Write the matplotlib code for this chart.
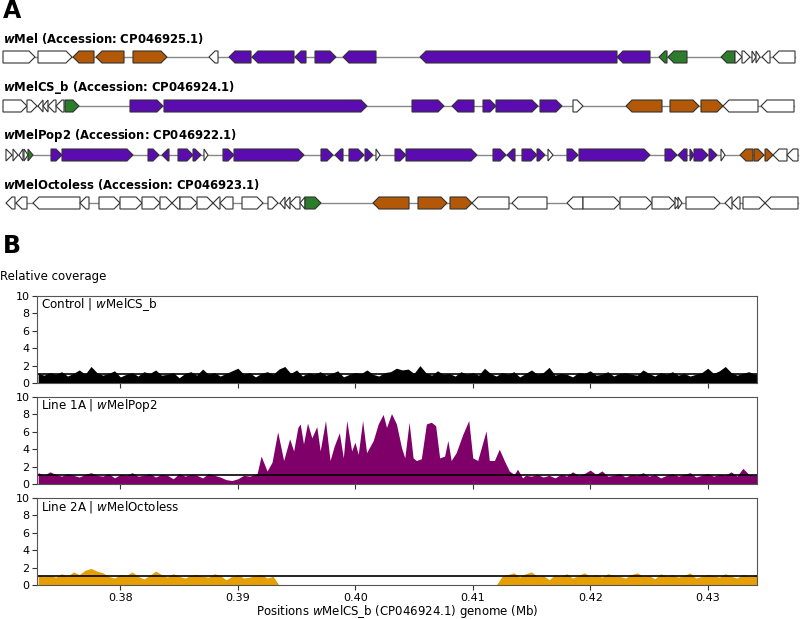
import numpy as np
import matplotlib
matplotlib.use("Agg")
import matplotlib.pyplot as plt
from matplotlib.patches import Polygon

# ---- panel A: gene tracks (start, end, strand, colour code) ----
track_titles = [r"$\mathbfit{w}$Mel (Accession: CP046925.1)",
                r"$\mathbfit{w}$MelCS_b (Accession: CP046924.1)",
                r"$\mathbfit{w}$MelPop2 (Accession: CP046922.1)",
                r"$\mathbfit{w}$MelOctoless (Accession: CP046923.1)"]

wmel_genes = [(3, 35, 1, 'w'), (38, 72, 1, 'w'), (73, 94, -1, 'o'), (96, 124, -1, 'o'),
              (133, 167, 1, 'o'), (209, 218, -1, 'w'), (229, 251, -1, 'p'), (252, 294, -1, 'p'),
              (295, 306, -1, 'p'), (315, 336, 1, 'p'), (343, 376, -1, 'p'), (420, 617, -1, 'p'),
              (617, 650, -1, 'p'), (659, 667, -1, 'g'), (668, 687, -1, 'g'), (721, 735, -1, 'g'),
              (735, 742, 1, 'w'), (742, 750, 1, 'w'), (752, 756, 1, 'w'), (756, 760, 1, 'w'),
              (762, 770, -1, 'w'), (773, 795, -1, 'w')]

wmelcs_genes = [(3, 27, 1, 'w'), (27, 37, 1, 'w'), (38, 43, -1, 'w'), (43, 48, -1, 'w'),
                (48, 56, -1, 'w'), (56, 64, -1, 'w'), (65, 79, 1, 'g'), (130, 163, 1, 'p'),
                (164, 367, 1, 'p'), (412, 444, 1, 'p'), (452, 474, -1, 'p'), (483, 496, 1, 'p'),
                (496, 538, 1, 'p'), (540, 562, 1, 'p'), (573, 583, 1, 'w'), (626, 662, -1, 'o'),
                (670, 699, 1, 'o'), (701, 723, 1, 'o'), (723, 758, -1, 'w'), (761, 794, -1, 'w')]

wmelpop_genes = [(6, 12, 1, 'w'), (13, 18, 1, 'w'), (19, 23, -1, 'w'), (24, 28, 1, 'w'),
                 (28, 33, 1, 'g'), (51, 62, 1, 'p'), (62, 133, 1, 'p'), (148, 159, 1, 'p'),
                 (162, 169, -1, 'p'), (178, 193, 1, 'p'), (193, 201, 1, 'p'), (204, 208, 1, 'w'),
                 (223, 234, 1, 'p'), (234, 304, 1, 'p'), (321, 333, 1, 'p'), (335, 343, -1, 'p'),
                 (349, 364, 1, 'p'), (365, 373, 1, 'p'), (376, 380, 1, 'w'), (395, 406, 1, 'p'),
                 (406, 477, 1, 'p'), (493, 506, 1, 'p'), (507, 515, -1, 'p'), (522, 537, 1, 'p'),
                 (537, 545, 1, 'p'), (548, 553, 1, 'w'), (567, 578, 1, 'p'), (579, 650, 1, 'p'),
                 (665, 677, 1, 'p'), (678, 687, -1, 'p'), (690, 694, 1, 'p'), (694, 708, 1, 'p'),
                 (709, 717, 1, 'p'), (721, 725, 1, 'w'), (740, 753, -1, 'o'), (754, 764, 1, 'o'),
                 (765, 773, 1, 'o'), (773, 787, -1, 'w'), (787, 798, -1, 'w')]

wmeloct_genes = [(6, 15, -1, 'w'), (16, 27, -1, 'w'), (33, 80, -1, 'w'), (80, 89, -1, 'w'),
                 (99, 120, 1, 'w'), (120, 142, 1, 'w'), (142, 160, 1, 'w'), (160, 172, 1, 'w'),
                 (172, 180, -1, 'w'), (180, 197, 1, 'w'), (197, 213, 1, 'w'), (213, 220, -1, 'w'),
                 (220, 233, -1, 'w'), (242, 263, 1, 'w'), (268, 278, 1, 'w'), (280, 285, -1, 'w'),
                 (285, 290, -1, 'w'), (290, 300, -1, 'w'), (300, 305, -1, 'w'), (305, 321, 1, 'g'),
                 (373, 409, -1, 'o'), (418, 447, 1, 'o'), (450, 472, 1, 'o'), (472, 509, -1, 'w'),
                 (512, 547, -1, 'w'), (567, 583, -1, 'w'), (583, 620, 1, 'w'), (620, 652, 1, 'w'),
                 (652, 675, 1, 'w'), (675, 680, 1, 'w'), (678, 682, 1, 'w'), (686, 720, 1, 'w'),
                 (725, 732, -1, 'w'), (732, 740, -1, 'w'), (743, 765, 1, 'w'), (765, 798, -1, 'w')]

tracks = [wmel_genes, wmelcs_genes, wmelpop_genes, wmeloct_genes]
gene_colors = {'w': 'white', 'o': '#b35806', 'p': '#5a0cb0', 'g': '#2b7d2b'}

# ---- panel B: relative coverage ----
grid_pos = np.linspace(0.373, 0.4345, 124)

control_cov = [1.1, 0.9, 1.2, 1.0, 1.3, 0.8, 1.1, 1.5, 1.0, 1.9,
               1.2, 0.9, 1.1, 1.4, 0.7, 1.0, 1.2, 0.8, 1.3, 1.1,
               1.5, 0.9, 1.0, 1.2, 0.6, 1.1, 1.3, 0.9, 1.6, 1.0,
               1.2, 0.8, 1.1, 1.4, 1.7, 1.0, 1.2, 0.7, 1.1, 1.3,
               1.0, 1.6, 1.9, 1.1, 1.5, 0.8, 1.2, 1.0, 1.3, 0.9,
               1.1, 1.4, 0.7, 1.0, 1.2, 1.1, 1.5, 1.0, 0.8, 1.2,
               1.3, 1.7, 1.5, 1.6, 1.1, 2.0, 1.2, 0.9, 1.4, 1.0,
               1.1, 0.8, 1.3, 1.0, 1.2, 0.9, 1.7, 1.1, 0.8, 1.2,
               1.0, 1.3, 0.7, 1.1, 1.5, 1.0, 1.2, 1.8, 0.9, 1.1,
               1.0, 0.7, 1.2, 1.1, 1.4, 0.9, 1.0, 1.3, 0.8, 1.1,
               1.2, 1.0, 0.9, 1.5, 1.1, 0.8, 1.2, 1.0, 1.3, 0.9,
               1.1, 0.8, 1.0, 1.2, 1.7, 1.1, 1.4, 1.9, 1.2, 0.9,
               1.1, 1.3, 1.0, 1.2]

octoless_cov = ([1.2, 1.0, 1.1, 0.9, 1.3, 1.0, 1.5, 1.2, 1.7, 1.9,
                 1.6, 1.4, 1.0, 0.8, 1.2, 1.1, 1.5, 1.0, 0.7, 1.1,
                 1.6, 1.2, 0.9, 1.3, 1.0, 0.8, 1.1, 1.2, 1.0, 0.9,
                 1.3, 1.1, 0.6, 1.0, 1.2, 0.8, 0.9, 1.1, 1.2, 0.8,
                 1.0]
                + [0.0] * 38
                + [1.0, 1.2, 1.4, 0.9, 1.3, 1.5, 1.0, 1.1, 0.6, 1.2, 1.0,
                   1.3, 0.8, 1.1, 1.4, 1.0, 1.2, 0.9, 1.3, 1.1, 1.0,
                   0.8, 1.2, 1.4, 1.0, 1.1, 0.7, 1.3, 1.0, 1.2, 0.9,
                   1.1, 1.4, 0.8, 1.0, 1.2, 1.1, 0.9, 1.3, 1.0, 0.8,
                   1.2, 1.0, 1.1, 1.3])

pop2_left_cov = [1.3, 1.0, 1.4, 1.1, 0.9, 1.2, 1.0, 0.8, 1.1, 1.3,
                 1.0, 0.9, 1.2, 0.7, 1.1, 1.0, 1.3, 0.9, 1.0, 1.2,
                 0.8, 1.1, 1.0, 0.6, 1.2, 0.9, 1.1, 1.0, 0.7, 1.2,
                 1.0, 0.8, 0.5, 0.4, 0.6, 1.0, 0.9, 1.1]
pop2_peak_pos = [0.39164, 0.39198, 0.39249, 0.39291, 0.39339, 0.39390, 0.39441, 0.39475,
                 0.39511, 0.39531, 0.39559, 0.39593, 0.39630, 0.39672, 0.39701, 0.39746,
                 0.39785, 0.39819, 0.39864, 0.39898, 0.39927, 0.39969, 0.39997, 0.40025,
                 0.40062, 0.40096, 0.40153, 0.40195, 0.40237, 0.40266, 0.40308, 0.40350,
                 0.40393, 0.40421, 0.40458, 0.40492, 0.40520, 0.40562, 0.40605, 0.40647,
                 0.40684, 0.40718, 0.40760, 0.40788, 0.40816, 0.40859, 0.40915, 0.40966,
                 0.41000, 0.41042, 0.41113, 0.41141, 0.41184, 0.41226, 0.41268, 0.41311,
                 0.41353, 0.41381, 0.41424]
pop2_peak_cov = [1.2, 3.2, 1.5, 2.5, 6.0, 2.7, 5.2, 3.8,
                 6.5, 6.9, 4.6, 7.0, 5.3, 6.6, 3.8, 7.3,
                 2.7, 4.3, 5.9, 3.0, 7.3, 3.8, 4.8, 3.4,
                 7.3, 3.6, 5.0, 6.9, 8.0, 6.5, 8.1, 6.9,
                 4.2, 3.0, 7.1, 3.0, 2.7, 2.9, 6.9, 7.1,
                 6.7, 3.0, 3.2, 5.0, 2.7, 3.6, 5.7, 7.3,
                 3.0, 2.7, 6.1, 2.7, 2.7, 4.0, 2.7, 1.5,
                 1.1, 1.7, 0.7]
pop2_right_cov = [1.0, 0.9, 1.1, 0.8, 1.0, 0.7, 1.1, 0.9, 1.4, 1.0,
                  1.2, 1.6, 1.1, 1.5, 0.9, 1.0, 1.2, 0.8, 1.1, 1.0,
                  1.3, 0.9, 1.1, 0.7, 1.0, 1.2, 0.9, 1.1, 1.3, 0.8,
                  1.0, 1.2, 0.9, 1.1, 1.0, 1.4, 0.9, 1.8, 1.1, 1.0,
                  1.2]

pop2_pos = np.concatenate([np.linspace(0.373, 0.3915, 38), pop2_peak_pos,
                           np.linspace(0.4145, 0.4345, 41)])
pop2_cov = pop2_left_cov + pop2_peak_cov + pop2_right_cov

panel_labels = [r"Control | $\it{w}$MelCS_b", r"Line 1A | $\it{w}$MelPop2",
                r"Line 2A | $\it{w}$MelOctoless"]
panel_colors = ['black', '#7f0069', '#e69f00']

fig = plt.figure(figsize=(8, 6.19), dpi=100)

# panel A drawn in pixel-like units
axA = fig.add_axes([0, 1 - 230 / 619, 1, 230 / 619])
axA.set_xlim(0, 800)
axA.set_ylim(230, 0)
axA.axis('off')

track_y = [57, 106, 155, 203]
title_y = [38, 87, 135, 184]
h = 12
head = 6
for genes, ty, tt, title in zip(tracks, track_y, title_y, track_titles):
    x0 = min(g[0] for g in genes)
    x1 = max(g[1] for g in genes)
    axA.plot([x0, x1], [ty, ty], color='#888888', lw=1, zorder=1)
    for s, e, strand, c in genes:
        hl = min(head, e - s)
        if strand == 1:
            pts = [(s, ty - h / 2), (e - hl, ty - h / 2), (e, ty), (e - hl, ty + h / 2), (s, ty + h / 2)]
        else:
            pts = [(e, ty - h / 2), (s + hl, ty - h / 2), (s, ty), (s + hl, ty + h / 2), (e, ty + h / 2)]
        axA.add_patch(Polygon(pts, closed=True, facecolor=gene_colors[c],
                              edgecolor='#333333', lw=0.8, zorder=2))
    axA.text(3, tt, title, fontsize=8.4, fontweight='bold', va='center', ha='left')

fig.text(0.004, 1 - 11 / 619, "A", fontsize=17, fontweight='bold', va='center', ha='left')
fig.text(0.004, 1 - 246 / 619, "B", fontsize=17, fontweight='bold', va='center', ha='left')
fig.text(0.0, 1 - 277 / 619, "Relative coverage", fontsize=8.5, va='center', ha='left')

# panel B
pos_list = [grid_pos, pop2_pos, grid_pos]
cov_list = [control_cov, pop2_cov, octoless_cov]
tops = [296, 397, 498]
axes = []
for i in range(3):
    ax = fig.add_axes([37 / 800, 1 - (tops[i] + 87) / 619, 720 / 800, 87 / 619])
    ax.fill_between(pos_list[i], 0, cov_list[i], color=panel_colors[i], lw=0)
    ax.axhline(1, color='black', lw=1.2)
    ax.set_xlim(0.3729, 0.4342)
    ax.set_ylim(0, 10)
    ax.set_yticks([0, 2, 4, 6, 8, 10])
    ax.set_xticks([0.38, 0.39, 0.40, 0.41, 0.42, 0.43])
    ax.tick_params(labelsize=8, length=3.5, width=0.8, color='#333333', pad=2)
    for sp in ax.spines.values():
        sp.set_color('#555555')
        sp.set_linewidth(0.8)
    ax.text(0.006, 0.9, panel_labels[i], transform=ax.transAxes, fontsize=8.6, va='center')
    if i < 2:
        ax.set_xticklabels([])
    else:
        ax.set_xticklabels(['0.38', '0.39', '0.40', '0.41', '0.42', '0.43'])
        ax.set_xlabel(r"Positions $\it{w}$MelCS_b (CP046924.1) genome (Mb)", fontsize=8.5, labelpad=0)
    axes.append(ax)

fig.savefig("out.png", dpi=100)
